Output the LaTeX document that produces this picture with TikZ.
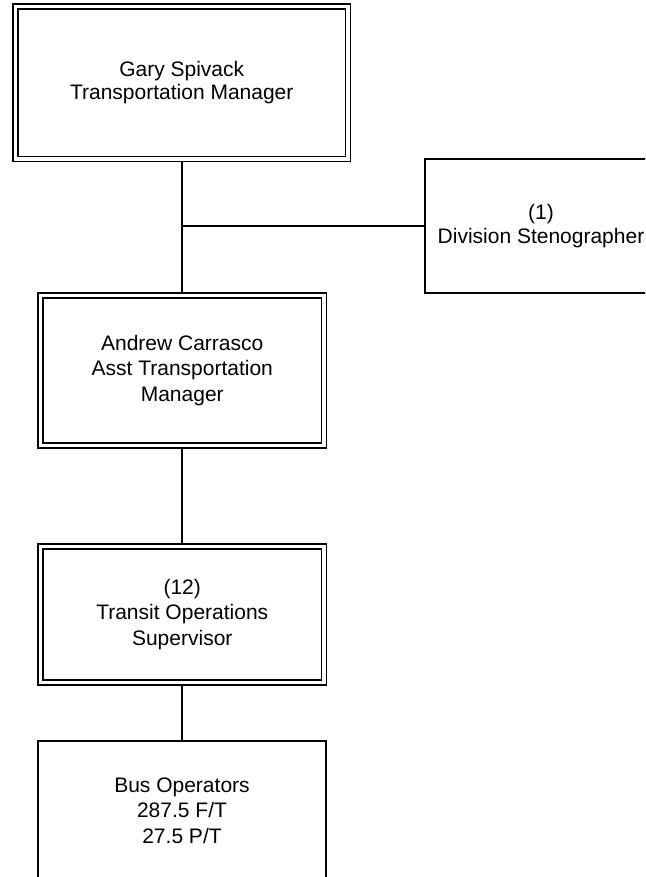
\documentclass[tikz,border=0pt]{standalone}
\usepackage{fontspec}
\setmainfont{Liberation Sans}
\begin{document}
\begin{tikzpicture}[x=1pt,y=-1pt,
  dbox/.style={draw=black, line width=1.4pt, double=white, double distance=3.6pt,
    outer sep=3.2pt, inner sep=0pt, align=center, rectangle},
  sbox/.style={draw=black, line width=1.5pt, outer sep=0.75pt, inner sep=0pt, align=center, rectangle},
  conn/.style={draw=black, line width=1.5pt},
  txt/.style={font=\fontsize{21}{25.5}\selectfont},
  txtb/.style={font=\fontsize{21}{23.5}\selectfont}]
\useasboundingbox (0,0) rectangle (645,877);
\clip (0,0) rectangle (645,877);
\node[dbox, txtb, minimum width=332.5pt, minimum height=152.5pt] (gs) at (181.75,82.75)
  {Gary Spivack\\Transportation Manager};
\node[sbox, txtb, minimum width=232pt, minimum height=134pt] (ds) at (541,226)
  {(1)\\Division Stenographer};
\node[dbox, txt, minimum width=283.5pt, minimum height=150pt] (ac) at (182.25,370.5)
  {Andrew Carrasco\\Asst Transportation\\Manager};
\node[dbox, txt, minimum width=283.5pt, minimum height=136pt] (tos) at (182.25,614.5)
  {(12)\\Transit Operations\\Supervisor};
\node[sbox, txt, minimum width=288pt, minimum height=139pt] (bo) at (182,810.5)
  {Bus Operators\\287.5 F/T\\27.5 P/T};
\coordinate (j) at (182,226);
\draw[conn] (gs.south -| j) -- (ac.north -| j);
\draw[conn] (j) -- (ds.west);
\draw[conn] (ac.south -| j) -- (tos.north -| j);
\draw[conn] (tos.south -| j) -- (bo.north -| j);
\end{tikzpicture}
\end{document}
